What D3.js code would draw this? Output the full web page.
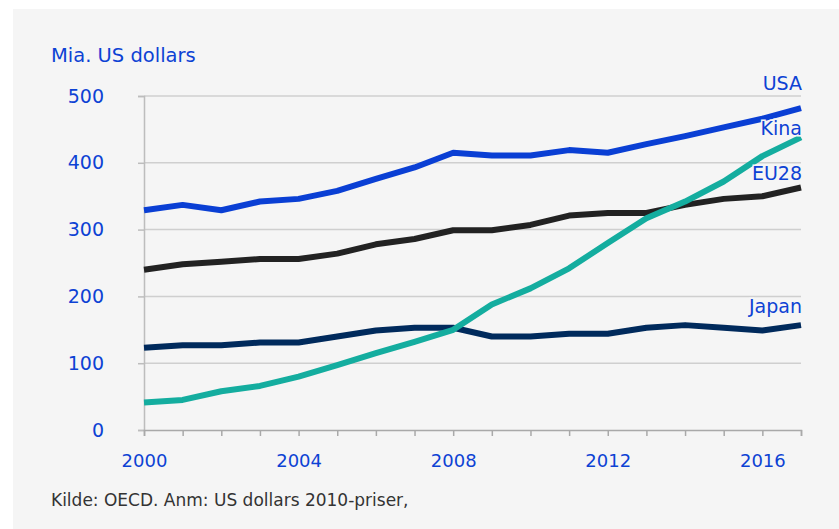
<!DOCTYPE html>
<html>
<head>
<meta charset="utf-8">
<script src="https://cdn.jsdelivr.net/npm/d3@7"></script>
<style>
  body { margin: 0; background: #ffffff; }
  svg { display: block; }
  svg text { font-family: "DejaVu Sans", "Noto Sans", sans-serif; }
</style>
</head>
<body>
<div id="chart"></div>
<script>
const years = d3.range(2000, 2018);
const usa   = [329, 337, 329, 342, 346, 358, 376, 393, 415, 411, 411, 419, 415, 428, 440, 453, 466, 482];
const eu28  = [240, 248, 252, 256, 256, 264, 278, 286, 299, 299, 307, 321, 325, 325, 337, 346, 350, 363];
const kina  = [41, 45, 58, 66, 80, 97, 115, 132, 150, 188, 212, 242, 280, 317, 342, 372, 410, 438];
const japan = [123, 127, 127, 131, 131, 140, 149, 153, 153, 140, 140, 144, 144, 153, 157, 153, 149, 157];
const yTicks = [0, 100, 200, 300, 400, 500];
const xTicks = [2000, 2004, 2008, 2012, 2016];

const series = [
  { name: "EU28",  values: eu28,  color: "#222222", labelY: 180 },
  { name: "Japan", values: japan, color: "#002a5c", labelY: 313 },
  { name: "USA",   values: usa,   color: "#0a3fd4", labelY: 90 },
  { name: "Kina",  values: kina,  color: "#14ad9f", labelY: 135 }
];

const W = 839, H = 529;
const blue = "#0d42d4";

const svg = d3.select("#chart").append("svg")
  .attr("width", W)
  .attr("height", H);

// panel background
svg.append("rect")
  .attr("x", 13).attr("y", 9)
  .attr("width", W - 13).attr("height", H - 9)
  .attr("fill", "#f5f5f5");

const x = d3.scaleLinear().domain([2000, 2017]).range([144, 801]);
const y = d3.scaleLinear().domain([0, 500]).range([430, 96]);

// grid lines
svg.append("g")
  .selectAll("line")
  .data(yTicks.filter(d => d > 0))
  .enter().append("line")
  .attr("x1", x(2000)).attr("x2", x(2017))
  .attr("y1", d => y(d)).attr("y2", d => y(d))
  .attr("stroke", "#cfcfcf")
  .attr("stroke-width", 1.5);

// y axis
const yAxis = svg.append("g")
  .attr("transform", `translate(${x(2000)},0)`)
  .call(d3.axisLeft(y).tickValues(yTicks).tickSize(6).tickPadding(34));
yAxis.attr("font-family", null);
yAxis.select(".domain").attr("stroke", "#bdbdbd").attr("stroke-width", 1.5);
yAxis.selectAll(".tick line").attr("stroke", "#bdbdbd").attr("stroke-width", 1.5);
yAxis.selectAll(".tick text")
  .attr("fill", blue)
  .style("font-size", "19px");

// x axis
const xAxis = svg.append("g")
  .attr("transform", `translate(0,${y(0)})`)
  .call(d3.axisBottom(x).tickValues(years).tickSize(6).tickFormat(d => xTicks.includes(d) ? d : ""));
xAxis.attr("font-family", null);
xAxis.select(".domain").attr("stroke", "#a9a9a9").attr("stroke-width", 1.5);
xAxis.selectAll(".tick line").attr("stroke", "#a9a9a9").attr("stroke-width", 1.5);
xAxis.selectAll(".tick text")
  .attr("fill", blue)
  .attr("y", 24)
  .style("font-size", "18px");

const line = d3.line()
  .x((d, i) => x(years[i]))
  .y(d => y(d));

svg.append("g")
  .selectAll("path")
  .data(series)
  .enter().append("path")
  .attr("d", d => line(d.values))
  .attr("fill", "none")
  .attr("stroke", d => d.color)
  .attr("stroke-width", 6)
  .attr("stroke-linejoin", "round");

// series labels
svg.append("g")
  .selectAll("text")
  .data(series)
  .enter().append("text")
  .attr("x", x(2017) + 1)
  .attr("y", d => d.labelY)
  .attr("text-anchor", "end")
  .attr("fill", blue)
  .attr("stroke", "#f5f5f5")
  .attr("stroke-width", 3)
  .attr("paint-order", "stroke")
  .style("font-size", "19px")
  .text(d => d.name);

svg.append("text")
  .attr("x", 51).attr("y", 62)
  .attr("fill", blue)
  .style("font-size", "19.5px")
  .text("Mia. US dollars");

svg.append("text")
  .attr("x", 51).attr("y", 506)
  .attr("fill", "#333333")
  .style("font-size", "17px")
  .text("Kilde: OECD. Anm: US dollars 2010-priser,");
</script>
</body>
</html>
